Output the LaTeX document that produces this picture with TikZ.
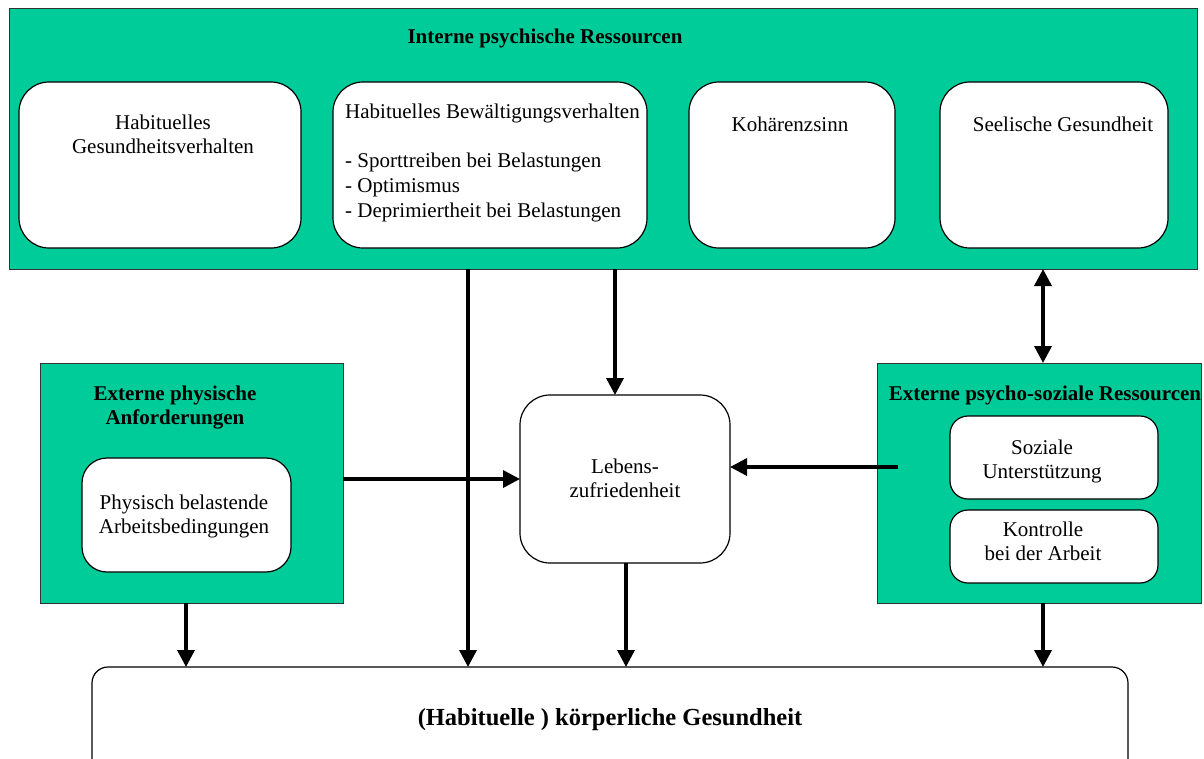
\documentclass[tikz,border=0pt]{standalone}
\usepackage{fontspec}
\setmainfont{Liberation Serif}
\usetikzlibrary{arrows.meta}
\definecolor{grn}{RGB}{0,204,153}
\begin{document}
\begin{tikzpicture}[x=1pt,y=-1pt,
  greenbox/.style={draw=black!80, line width=1pt, fill=grn, inner sep=0, outer sep=0},
  whitebox/.style={draw=black, line width=1.2pt, fill=white, inner sep=0, outer sep=0, rounded corners=#1},
  whitebox/.default=30pt,
  txt/.style={font=\fontsize{21}{24}\selectfont, anchor=base, inner sep=0, align=center},
  ttl/.style={font=\fontsize{21}{24}\selectfont\bfseries, anchor=base, inner sep=0, align=center},
  arr/.style={line width=3.5pt, -{Triangle[length=17pt,width=17pt]}},
  dbl/.style={line width=3.5pt, {Triangle[length=17pt,width=17pt]}-{Triangle[length=17pt,width=17pt]}}]
\useasboundingbox (0,0) rectangle (1204,758);
% top group
\node[greenbox, minimum width=1188pt, minimum height=261pt] (top) at (603,138.5) {};
\node[ttl] (toptitle) at (545,43) {Interne psychische Ressourcen};
\node[whitebox, minimum width=282pt, minimum height=166pt] (b1) at (160,165) {};
\node[whitebox, minimum width=314pt, minimum height=166pt] (b2) at (490,165) {};
\node[whitebox, minimum width=206pt, minimum height=166pt] (b3) at (792,165) {};
\node[whitebox, minimum width=228pt, minimum height=166pt] (b4) at (1054,165) {};
\node[txt] (t1) at (163,153) {Habituelles\\Gesundheitsverhalten};
\node[txt, anchor=base west, align=left, font=\fontsize{21}{25}\selectfont] (t2) at (345,217) {Habituelles Bewältigungsverhalten\\[24pt]- Sporttreiben bei Belastungen\\- Optimismus\\- Deprimiertheit bei Belastungen};
\node[txt] (t3) at (790,131) {Kohärenzsinn};
\node[txt] (t4) at (1063,131) {Seelische Gesundheit};
% left group
\node[greenbox, minimum width=303pt, minimum height=240pt] (left) at (191.5,483) {};
\node[ttl] (lefttitle) at (175,424) {Externe physische\\Anforderungen};
\node[whitebox=25pt, minimum width=209pt, minimum height=114pt] (leftin) at (186.5,515) {};
\node[txt] (tl) at (184,533) {Physisch belastende\\Arbeitsbedingungen};
% middle
\node[whitebox, minimum width=210pt, minimum height=168pt] (leb) at (625,479) {};
\node[txt] (tleb) at (625,497) {Lebens-\\zufriedenheit};
% right group
\node[greenbox, minimum width=324pt, minimum height=240pt] (right) at (1039,483) {};
\node[ttl] (righttitle) at (1045,400) {Externe psycho-soziale Ressourcen};
\node[whitebox=18pt, minimum width=208pt, minimum height=83pt] (r1) at (1054,457.5) {};
\node[whitebox=18pt, minimum width=208pt, minimum height=73pt] (r2) at (1054,546.5) {};
\node[txt] (tr1) at (1042,478) {Soziale\\Unterstützung};
\node[txt] (tr2) at (1043,560) {Kontrolle\\bei der Arbeit};
% bottom
\begin{scope}
\clip (0,0) rectangle (1204,758);
\node[whitebox=16pt, minimum width=1036pt, minimum height=123pt] (bot) at (610,728.5) {};
\end{scope}
\node[ttl, font=\fontsize{24.5}{28}\selectfont\bfseries] (tbot) at (610,725) {(Habituelle ) körperliche Gesundheit};
% connectors
\coordinate (xa) at (468,0);
\coordinate (xb) at (615,0);
\coordinate (xc) at (1043,0);
\coordinate (xd) at (186,0);
\coordinate (xe) at (626,0);
\coordinate (ya) at (0,479);
\coordinate (rs) at (898,467);
\draw[arr] (top.south -| xa) -- (bot.north -| xa);
\draw[arr] (top.south -| xb) -- (leb.north -| xb);
\draw[dbl] (top.south -| xc) -- (right.north -| xc);
\draw[arr] (left.east |- ya) -- (leb.west |- ya);
\draw[arr] (rs) -- (leb.east |- rs);
\draw[arr] (left.south -| xd) -- (bot.north -| xd);
\draw[arr] (leb.south -| xe) -- (bot.north -| xe);
\draw[arr] (right.south -| xc) -- (bot.north -| xc);
\end{tikzpicture}
\end{document}
